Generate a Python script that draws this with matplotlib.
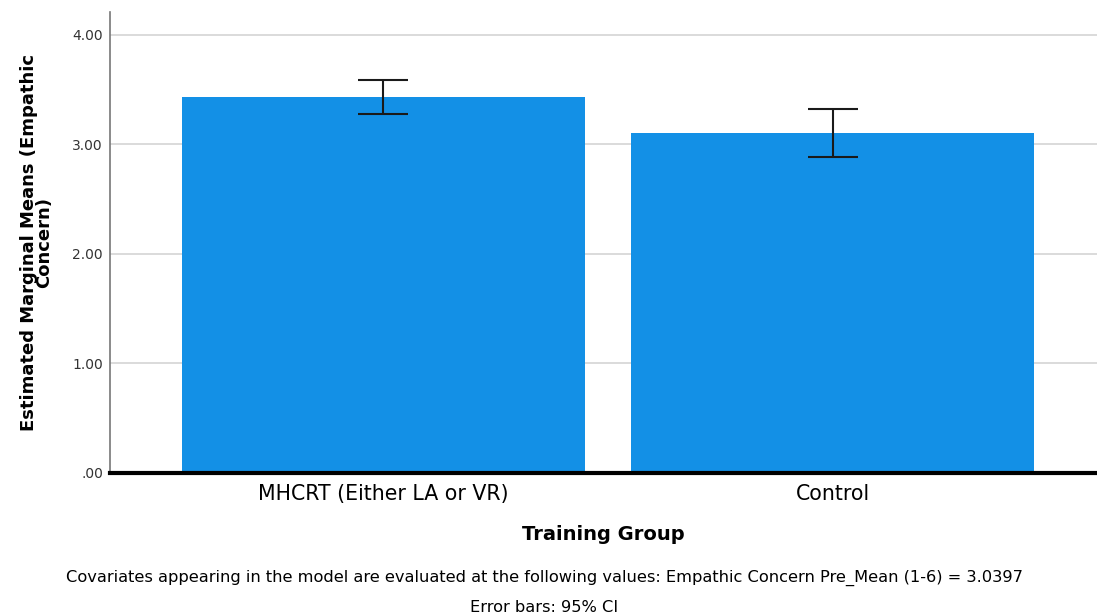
import matplotlib.pyplot as plt
import numpy as np

groups = ['MHCRT (Either LA or VR)', 'Control']
means = [3.434, 3.105]
ci_low = [3.279, 2.886]
ci_high = [3.589, 3.324]
yticks = [0, 1, 2, 3, 4]
ytick_labels = ['.00', '1.00', '2.00', '3.00', '4.00']

fig = plt.figure(figsize=(10.97, 6.16), dpi=100)
ax = fig.add_axes([110 / 1097, 143 / 616, 987 / 1097, 461 / 616])

x = np.arange(len(groups))
means_arr = np.array(means)
err = [means_arr - np.array(ci_low), np.array(ci_high) - means_arr]

ax.bar(x, means, width=0.898, color='#1390e6', zorder=2)
ax.errorbar(x, means, yerr=err, fmt='none', ecolor='#1a1a1a', elinewidth=1.5,
            capsize=18, capthick=1.5, zorder=3)

ax.set_xlim(-0.609, 1.589)
ax.set_ylim(0, 4.21)
ax.set_yticks(yticks)
ax.set_yticklabels(ytick_labels, fontsize=10, color='#333333')
ax.set_xticks(x)
ax.set_xticklabels(groups, fontsize=14.8)
ax.tick_params(axis='y', length=0, pad=5)
ax.tick_params(axis='x', length=0, pad=8)
ax.grid(axis='y', color='#d4d4d4', linewidth=1.2, zorder=0)
ax.set_axisbelow(True)

for side in ['top', 'right']:
    ax.spines[side].set_visible(False)
ax.spines['left'].set_color('#777777')
ax.spines['left'].set_linewidth(1.2)
ax.spines['bottom'].set_color('black')
ax.spines['bottom'].set_linewidth(3)
ax.spines['bottom'].set_zorder(4)

ax.set_ylabel('Estimated Marginal Means (Empathic\nConcern)', fontsize=13,
              fontweight='bold', linespacing=0.8, labelpad=14)
ax.set_xlabel('Training Group', fontsize=14, fontweight='bold', labelpad=15)

fig.text(0.496, 0.062, 'Covariates appearing in the model are evaluated at the following values: '
         'Empathic Concern Pre_Mean (1-6) = 3.0397',
         ha='center', va='center', fontsize=11.7)
fig.text(0.496, 0.013, 'Error bars: 95% CI', ha='center', va='center', fontsize=11.7)

fig.savefig('out.png', dpi=100)
